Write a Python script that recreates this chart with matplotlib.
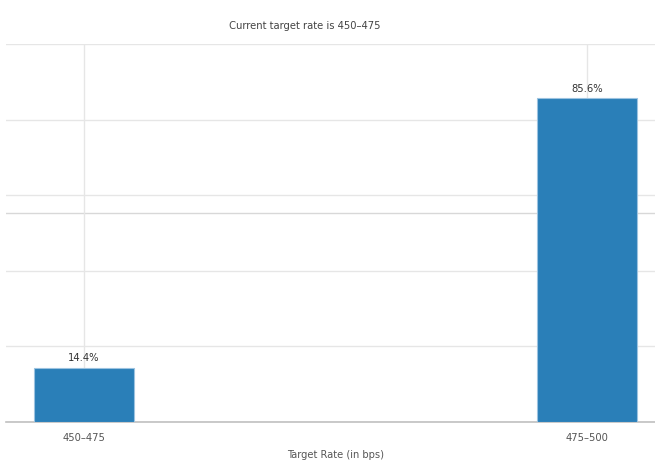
import matplotlib
matplotlib.use("Agg")
import matplotlib.pyplot as plt

categories = ["450-475", "475-500"]
probabilities = [14.4, 85.6]
labels = ["14.4%", "85.6%"]
title = "Current target rate is 450\u2013475"
xlabel = "Target Rate (in bps)"

plt.rcParams['font.family'] = ['DejaVu Sans']
plt.rcParams['font.stretch'] = 'condensed'

W, H = 655, 463
fig = plt.figure(figsize=(W / 100, H / 100), dpi=100)
ax = fig.add_axes([6 / W, 1 - 422 / H, (W - 6) / W, (422 - 44) / H])

x = list(range(len(categories)))
ax.bar(x, probabilities, width=0.2, color="#2a7fb8", edgecolor="#9cc3e0",
       linewidth=0.8, zorder=3)
for xi, v, lab in zip(x, probabilities, labels):
    ax.text(xi, v + 1.3, lab, ha="center", va="bottom", fontsize=8,
            color="#333333", zorder=4)

ax.set_xlim(-0.155, 1.135)
ax.set_ylim(0, 100)
ax.set_yticks([0, 20, 40, 60, 80, 100])
ax.set_yticklabels([])
ax.tick_params(axis="y", length=0)
ax.set_xticks(x)
ax.set_xticklabels([c.replace("-", "\u2013") for c in categories], fontsize=8,
                   color="#555555")
ax.tick_params(axis="x", length=0, pad=8)
ax.grid(True, color="#e6e6e6", linewidth=1, zorder=0)
ax.axhline(55.3, color="#d8d8d8", linewidth=1, zorder=1)

for side in ["top", "right", "left"]:
    ax.spines[side].set_visible(False)
ax.spines["bottom"].set_color("#c0c0c0")
ax.spines["bottom"].set_linewidth(1.2)

fig.text(336 / W, 1 - 455 / H, xlabel, ha="center", va="center",
         fontsize=7.9, color="#555555")
fig.text(305 / W, 1 - 26 / H, title, ha="center", va="center",
         fontsize=8.0, color="#444444")

fig.savefig("out.png", dpi=100)
